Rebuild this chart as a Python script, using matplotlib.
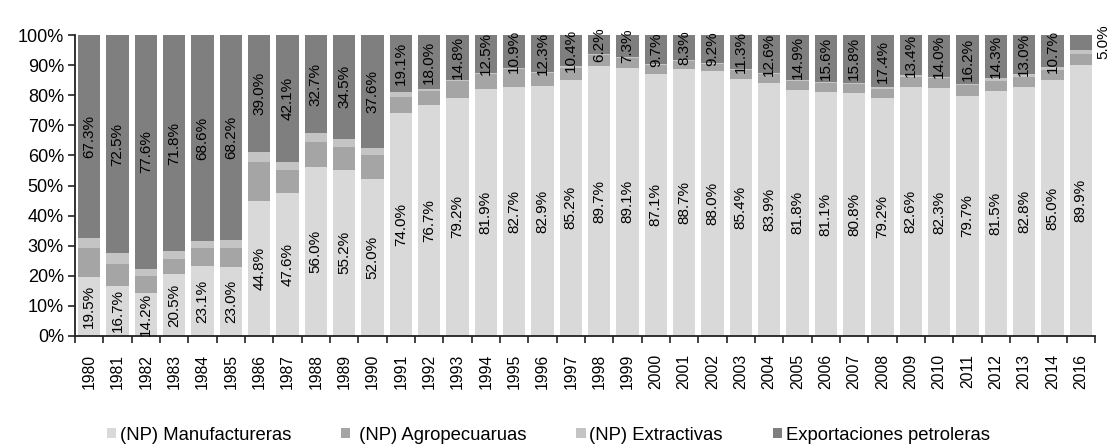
import matplotlib
matplotlib.use("Agg")
import matplotlib.pyplot as plt
from matplotlib import font_manager
import numpy as np

years = ["1980", "1981", "1982", "1983", "1984", "1985", "1986", "1987", "1988",
         "1989", "1990", "1991", "1992", "1993", "1994", "1995", "1996", "1997",
         "1998", "1999", "2000", "2001", "2002", "2003", "2004", "2005", "2006",
         "2007", "2008", "2009", "2010", "2011", "2012", "2013", "2014", "2016"]

manufactureras = [19.5, 16.7, 14.2, 20.5, 23.1, 23.0, 44.8, 47.6, 56.0, 55.2, 52.0,
                  74.0, 76.7, 79.2, 81.9, 82.7, 82.9, 85.2, 89.7, 89.1, 87.1, 88.7,
                  88.0, 85.4, 83.9, 81.8, 81.1, 80.8, 79.2, 82.6, 82.3, 79.7, 81.5,
                  82.8, 85.0, 89.9]

agropecuarias = [9.7, 7.2, 5.7, 5.2, 6.0, 6.2, 13.0, 7.4, 8.3, 7.7, 8.1,
                 5.5, 4.8, 5.6, 5.1, 5.9, 4.5, 4.0, 3.8, 3.3, 2.9, 2.7,
                 2.5, 2.9, 3.1, 2.9, 2.9, 3.0, 2.9, 3.6, 3.3, 3.6, 3.3,
                 3.4, 3.3, 3.8]

extractivas = [3.5, 3.6, 2.5, 2.5, 2.3, 2.6, 3.2, 2.9, 3.0, 2.6, 2.3,
               1.4, 0.5, 0.4, 0.5, 0.5, 0.3, 0.4, 0.3, 0.3, 0.3, 0.3,
               0.3, 0.4, 0.4, 0.4, 0.4, 0.4, 0.5, 0.4, 0.4, 0.5, 0.9,
               0.8, 1.0, 1.3]

petroleras = [67.3, 72.5, 77.6, 71.8, 68.6, 68.2, 39.0, 42.1, 32.7, 34.5, 37.6,
              19.1, 18.0, 14.8, 12.5, 10.9, 12.3, 10.4, 6.2, 7.3, 9.7, 8.3,
              9.2, 11.3, 12.6, 14.9, 15.6, 15.8, 17.4, 13.4, 14.0, 16.2, 14.3,
              13.0, 10.7, 5.0]

series_names = ["(NP) Manufactureras", " (NP) Agropecuaruas", "(NP) Extractivas",
                "Exportaciones petroleras"]
colors = ["#d9d9d9", "#a5a5a5", "#c4c4c4", "#7f7f7f"]

installed = {f.name for f in font_manager.fontManager.ttflist}
base_font = "Liberation Sans" if "Liberation Sans" in installed else "DejaVu Sans"
plt.rcParams["font.family"] = [base_font, "DejaVu Sans"]

fig = plt.figure(figsize=(11.11, 4.46), dpi=100)
ax = fig.add_axes([75 / 1111, 1 - 336 / 446, 1020 / 1111, 301 / 446])

x = np.arange(len(years))
width = 0.78
data = [np.array(manufactureras), np.array(agropecuarias),
        np.array(extractivas), np.array(petroleras)]
bottom = np.zeros(len(years))
containers = []
for vals, name, col in zip(data, series_names, colors):
    bc = ax.bar(x, vals, width, bottom=bottom, color=col, label=name, linewidth=0)
    containers.append((bc, vals, bottom.copy()))
    bottom = bottom + vals

# Value labels for manufactureras (bottom) and petroleras (top)
label_size = 11
for idx in (0, 3):
    bc, vals, base = containers[idx]
    for i, (v, b0) in enumerate(zip(vals, base)):
        txt = f"{v:.1f}%"
        if idx == 3 and v < 6:
            ax.text(x[i] + 0.78, 97.7, txt, rotation=90, ha="center", va="center",
                    fontsize=label_size, clip_on=False)
        else:
            ax.text(x[i], b0 + v / 2, txt, rotation=90, ha="center", va="center",
                    fontsize=label_size, clip_on=False)

ax.set_xlim(-0.5, len(years) - 0.5)
ax.set_ylim(0, 100)
ax.set_yticks(np.arange(0, 101, 10))
ax.set_yticklabels([f"{v}%" for v in range(0, 101, 10)], fontsize=13)
ax.set_xticks(x)
ax.set_xticklabels(years, rotation=90, fontsize=11.3)
ax.set_xticks(np.arange(-0.5, len(years), 1), minor=True)
ax.tick_params(axis="x", which="major", length=0, pad=13)
ax.tick_params(axis="x", which="minor", length=5, width=1.2, direction="out", color="#222222")
ax.tick_params(axis="y", length=5, width=1.2, direction="out", color="#222222", pad=3)

for side in ("top", "right"):
    ax.spines[side].set_visible(False)
for side in ("left", "bottom"):
    ax.spines[side].set_color("#222222")
    ax.spines[side].set_linewidth(1.3)

leg = fig.legend(loc="center left", bbox_to_anchor=(107 / 1111, 1 - 435 / 446), ncol=4,
                 frameon=False, borderpad=0, borderaxespad=0,
                 handlelength=0.5, handleheight=0.5, handletextpad=0.2,
                 columnspacing=2.7, prop={"size": 13.3})

fig.savefig("out.png", dpi=100)
